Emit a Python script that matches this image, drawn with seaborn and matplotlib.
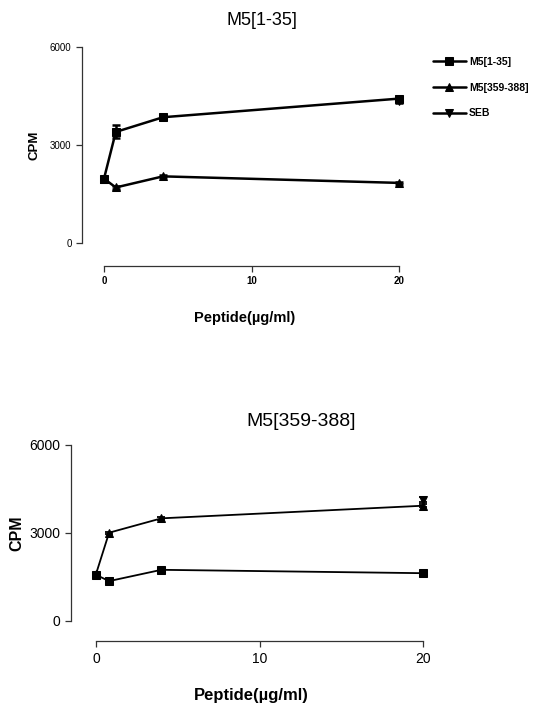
import matplotlib
matplotlib.use("Agg")
import matplotlib.pyplot as plt
import numpy as np
import pandas as pd
import seaborn as sns

sns.set_style("ticks")
plt.rcParams['font.family'] = ['Liberation Sans', 'DejaVu Sans']
plt.rcParams['text.color'] = 'black'
plt.rcParams['axes.labelcolor'] = 'black'
plt.rcParams['xtick.color'] = 'black'
plt.rcParams['ytick.color'] = 'black'

# peptide dose (ug/ml)
dose = [0, 0.8, 4, 20]
seb_dose = [20]

# panel 1: stimulation with M5[1-35]
top_m1 = [1970, 3400, 3850, 4420]
top_m1_err = [60, 200, 60, 50]
top_m359 = [1970, 1700, 2040, 1840]
top_m359_err = [40, 40, 30, 30]
top_seb = [4350]
top_seb_err = [60]

# panel 2: stimulation with M5[359-388]
bot_m1 = [1575, 1360, 1745, 1630]
bot_m1_err = [40, 30, 60, 30]
bot_m359 = [1600, 3010, 3500, 3930]
bot_m359_err = [30, 30, 40, 60]
bot_seb = [4140]
bot_seb_err = [80]

labels = ["M5[1-35]", "M5[359-388]", "SEB"]
markers = ["s", "^", "v"]

fig = plt.figure(figsize=(5.37, 7.11), dpi=100)
W, H = 537, 711


def make_axes(left, x0, unit, ybottom, ytop):
    # axes box in pixels: y-axis at `left`, x=0 at x0, `unit` px per dose unit
    xmin = -(x0 - left) / unit
    xmax = 20.5
    right = x0 + xmax * unit
    ax = fig.add_axes([left / W, 1 - ybottom / H, (right - left) / W, (ybottom - ytop) / H])
    ax.set_xlim(xmin, xmax)
    ax.set_ylim(0, 6000)
    return ax


def draw(ax, series, lw, ms):
    for (x, y, e), lab, m in zip(series, labels, markers):
        df = pd.DataFrame({"dose": x, "cpm": y})
        sns.lineplot(data=df, x="dose", y="cpm", ax=ax, color="black", lw=lw,
                     marker=m, markersize=ms, markeredgecolor="black", label=lab,
                     legend=False)
        ax.errorbar(x, y, yerr=e, fmt="none", ecolor="black", elinewidth=lw,
                    capsize=3, capthick=lw)


def style(ax, offset, tick_fs, tick_bold_x):
    sns.despine(ax=ax)
    ax.spines['bottom'].set_position(('outward', offset))
    ax.spines['bottom'].set_bounds(0, 20)
    ax.spines['left'].set_bounds(0, 6000)
    for s in ['left', 'bottom']:
        ax.spines[s].set_color('#333333')
        ax.spines[s].set_linewidth(0.9)
    ax.set_xticks([0, 10, 20])
    ax.set_yticks([0, 3000, 6000])
    ax.tick_params(length=4, width=0.9, color='#333333', labelsize=tick_fs)
    if tick_bold_x:
        for t in ax.get_xticklabels():
            t.set_fontweight('bold')


# top panel
ax1 = make_axes(82, 104, 14.75, 243, 47)
draw(ax1, [(dose, top_m1, top_m1_err), (dose, top_m359, top_m359_err),
           (seb_dose, top_seb, top_seb_err)], 1.8, 6)
style(ax1, 16.5, 7, True)
ax1.set_xlabel("Peptide(µg/ml)", fontsize=10.5, fontweight='bold', labelpad=18)
ax1.set_ylabel("CPM", fontsize=9.5, fontweight='bold')
ax1.yaxis.set_label_coords(-0.127, 0.5)
ax1.set_title("M5[1-35]", fontsize=13, pad=16, x=(262 - 82) / 324)
ax1.legend(loc="upper left", bbox_to_anchor=(1.07, 0.97), frameon=False,
           prop={'weight': 'bold', 'size': 7.5}, handlelength=3.1,
           handletextpad=0.35, labelspacing=1.5, borderaxespad=0)

# bottom panel
ax2 = make_axes(71, 96, 16.35, 621, 445)
draw(ax2, [(dose, bot_m1, bot_m1_err), (dose, bot_m359, bot_m359_err),
           (seb_dose, bot_seb, bot_seb_err)], 1.3, 6)
style(ax2, 14.5, 10, False)
ax2.set_xlabel("Peptide(µg/ml)", fontsize=12, fontweight='bold', labelpad=16)
ax2.set_ylabel("CPM", fontsize=11.5, fontweight='bold')
ax2.yaxis.set_label_coords(-0.13, 0.5)
ax2.set_title("M5[359-388]", fontsize=14, pad=14, x=(301 - 71) / 360)

fig.savefig("out.png", dpi=100)
